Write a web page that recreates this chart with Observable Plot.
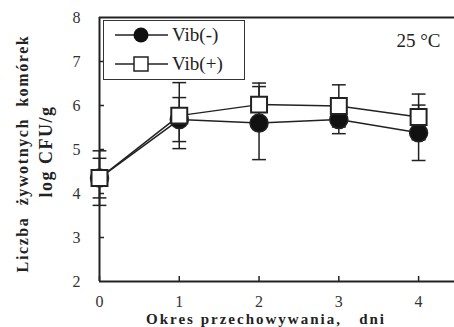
<!DOCTYPE html>
<html>
<head>
<meta charset="utf-8">
<script src="https://cdn.jsdelivr.net/npm/d3@7"></script>
<script src="https://cdn.jsdelivr.net/npm/@observablehq/plot@0.6"></script>
<style>
  html, body { margin: 0; padding: 0; background: #fff; }
  #chart { position: relative; width: 454px; height: 327px; }
  svg { font-family: "Liberation Serif", "DejaVu Serif", serif; }
</style>
</head>
<body>
<div id="chart"></div>
<script>
const days = [0, 1, 2, 3, 4];
const vibMinus = [4.35, 5.68, 5.60, 5.68, 5.38];
const vibMinusErr = [0.62, 0.50, 0.83, 0.32, 0.63];
const vibPlus = [4.35, 5.77, 6.02, 5.99, 5.74];
const vibPlusErr = [0.45, 0.75, 0.49, 0.48, 0.52];
const xTicks = [0, 1, 2, 3, 4];
const yTicks = [2, 3, 4, 5, 6, 7, 8];
const seriesNames = ["Vib(-)", "Vib(+)"];
const xTitle = "Okres przechowywania,   dni";
const yTitle1 = "Liczba  żywotnych  komórek";
const yTitle2 = "log CFU/g";
const tempLabel = "25 °C";

const minus = days.map((d, i) => ({day: d, v: vibMinus[i], e: vibMinusErr[i]}));
const plus = days.map((d, i) => ({day: d, v: vibPlus[i], e: vibPlusErr[i]}));

const capSymbol = {
  draw(ctx, size) {
    const w = Math.sqrt(size);
    ctx.moveTo(-w, 0);
    ctx.lineTo(w, 0);
  }
};
const ink = "#222";
const serif = "'Liberation Serif', 'DejaVu Serif', serif";

function errMarks(data) {
  return [
    Plot.ruleX(data, {x: "day", y1: d => d.v - d.e, y2: d => d.v + d.e, stroke: ink, strokeWidth: 1.5}),
    Plot.dot(data, {x: "day", y: d => d.v + d.e, symbol: capSymbol, r: 3.9, stroke: ink, strokeWidth: 1.5, fill: "none"}),
    Plot.dot(data, {x: "day", y: d => d.v - d.e, symbol: capSymbol, r: 3.9, stroke: ink, strokeWidth: 1.5, fill: "none"})
  ];
}

const chart = Plot.plot({
  width: 454,
  height: 327,
  marginLeft: 99,
  marginTop: 17,
  marginBottom: 46,
  marginRight: 0,
  style: {fontFamily: serif, background: "#fff"},
  x: {domain: [0, 4.45]},
  y: {domain: [2, 8]},
  marks: [
    Plot.axisX(xTicks, {tickSize: -5, tickPadding: 19, fontSize: 16, stroke: ink, strokeWidth: 1.5, color: "#333", label: null, tickFormat: d => String(d)}),
    Plot.axisY(yTicks.filter(t => t !== 2 && t !== 8), {tickSize: -5, tickPadding: 24, fontSize: 16, stroke: ink, strokeWidth: 1.5, label: null, text: null}),
    Plot.axisY(yTicks, {tickSize: 0, tickPadding: 19, fontSize: 16, label: null, fill: "#333", tickFormat: d => String(d)}),
    Plot.ruleX([0], {stroke: ink, strokeWidth: 2}),
    Plot.ruleY([2, 8], {stroke: ink, strokeWidth: 2}),
    Plot.line(minus, {x: "day", y: "v", stroke: ink, strokeWidth: 1.5}),
    Plot.line(plus, {x: "day", y: "v", stroke: ink, strokeWidth: 1.5}),
    ...errMarks(minus),
    ...errMarks(plus),
    Plot.dot(minus, {x: "day", y: "v", r: 9, fill: "#111", stroke: ink}),
    Plot.dot(plus, {x: "day", y: "v", r: 9, symbol: "square", fill: "#fff", stroke: ink, strokeWidth: 2}),
    Plot.text([tempLabel], {frameAnchor: "top-right", dx: -14, dy: 16, fontSize: 19, fill: "#222", textAnchor: "end"}),
    Plot.text([yTitle1], {frameAnchor: "left", textAnchor: "middle", lineAnchor: "middle", rotate: -90, dx: -77, dy: 4, fontSize: 16, fontWeight: "bold", fill: "#222"}),
    Plot.text([yTitle2], {frameAnchor: "left", textAnchor: "middle", lineAnchor: "middle", rotate: -90, dx: -53, dy: 2, fontSize: 18, fontWeight: "bold", fill: "#222"}),
    Plot.text([xTitle], {frameAnchor: "bottom", textAnchor: "middle", lineAnchor: "middle", dx: -11, dy: 38, fontSize: 15, fontWeight: "bold", fill: "#222"})
  ]
});

const svg = d3.select(chart);
svg.selectAll("text").each(function() {
  const t = d3.select(this);
  const s = t.text();
  if (s === yTitle1) t.style("white-space", "pre").attr("letter-spacing", 1.6);
  if (s === yTitle2) t.style("white-space", "pre").attr("letter-spacing", 1.5);
  if (s === xTitle) t.style("white-space", "pre").attr("letter-spacing", 2);
});

// Legend box inside the plot area
const lg = svg.append("g").attr("class", "legend")
  .attr("font-family", serif).attr("text-anchor", "start");
lg.append("rect").attr("x", 103.5).attr("y", 20.5).attr("width", 141).attr("height", 59)
  .attr("fill", "#fff").attr("stroke", "#333").attr("stroke-width", 1);
const rows = [35, 64];
seriesNames.forEach((name, i) => {
  const y = rows[i];
  lg.append("line").attr("x1", 115).attr("x2", 168).attr("y1", y).attr("y2", y).attr("stroke", ink).attr("stroke-width", 1.5);
  if (i === 0) {
    lg.append("circle").attr("cx", 141).attr("cy", y).attr("r", 7.5).attr("fill", "#111");
  } else {
    lg.append("rect").attr("x", 134).attr("y", y - 7).attr("width", 14).attr("height", 14).attr("fill", "#fff").attr("stroke", ink).attr("stroke-width", 1.5);
  }
  lg.append("text").attr("x", 172).attr("y", y + 6).attr("font-size", 19)
    .attr("font-family", serif).attr("text-anchor", "start").attr("fill", "#222").text(name);
});

document.getElementById("chart").appendChild(chart);
</script>
</body>
</html>
